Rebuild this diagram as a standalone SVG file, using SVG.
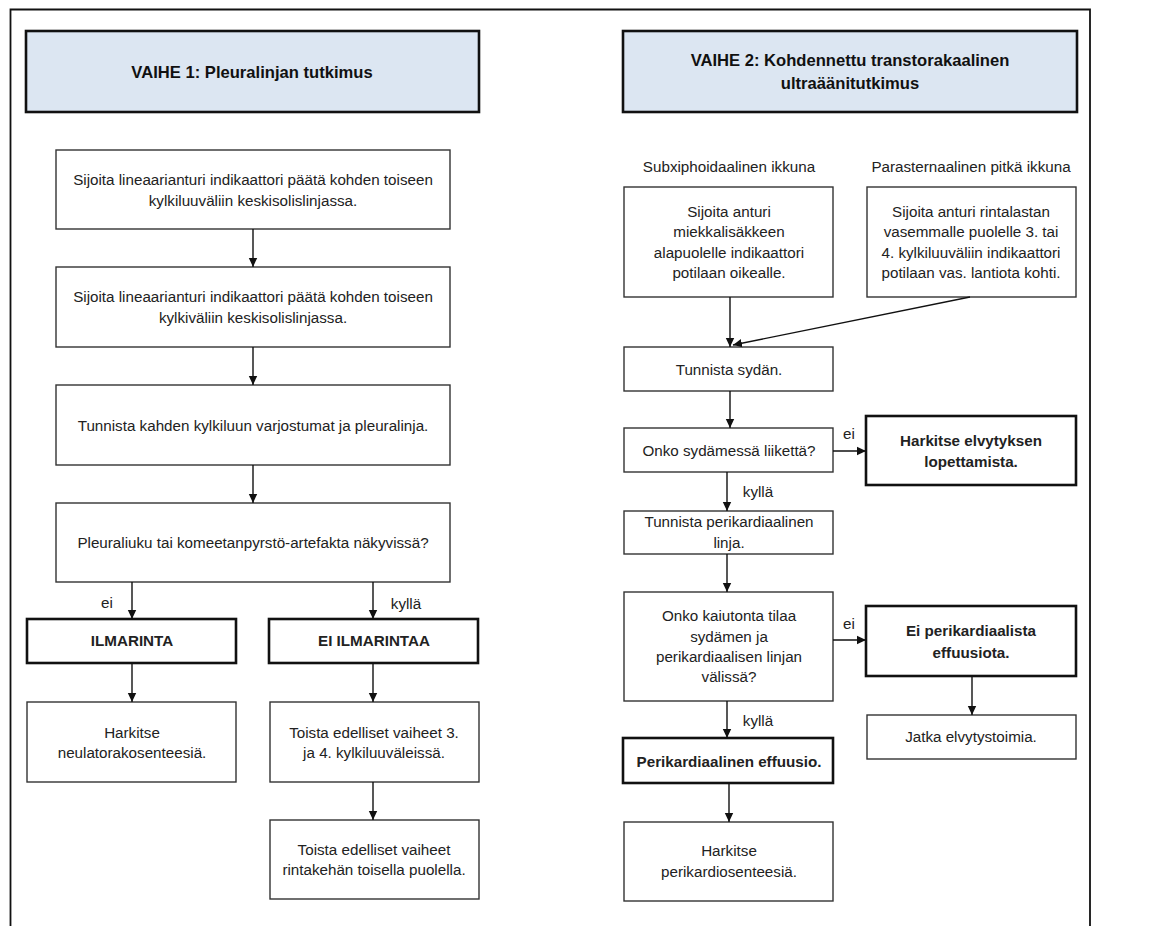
<svg xmlns="http://www.w3.org/2000/svg" width="1149" height="926" viewBox="0 0 1149 926">
<style>
text{font-family:"Liberation Sans",Arial,sans-serif;font-size:15.2px;fill:#222;text-anchor:middle}
.b{font-weight:bold}
.h{font-weight:bold;font-size:16.6px;fill:#111}
.box{fill:#fff;stroke:#333;stroke-width:1.4}
.tk{fill:#fff;stroke:#111;stroke-width:2.6}
.hd{fill:#dce6f2;stroke:#111;stroke-width:2.6}
.c{stroke:#111;stroke-width:1.4;fill:none;marker-end:url(#ah)}
</style>
<defs>
<marker id="ah" markerUnits="userSpaceOnUse" markerWidth="10" markerHeight="10" refX="9" refY="5" orient="auto">
<path d="M0,0.8 L9,5 L0,9.2 Z" fill="#111"/>
</marker>
</defs>
<rect width="1149" height="926" fill="#fff"/>
<path d="M10.5,926 V9.5 H1090 V926" fill="none" stroke="#111" stroke-width="1.8"/>

<g id="h1"><rect class="hd" x="26" y="31" width="453" height="81"/><text class="h" x="252" y="78">VAIHE 1: Pleuralinjan tutkimus</text></g>
<g id="h2"><rect class="hd" x="623" y="31" width="454" height="81"/><text class="h" x="850" y="66">VAIHE 2: Kohdennettu transtorakaalinen</text><text class="h" x="850" y="89">ultraäänitutkimus</text></g>

<g id="n1"><rect class="box" x="56" y="150" width="394" height="79"/><text x="253" y="185">Sijoita lineaarianturi indikaattori päätä kohden toiseen</text><text x="253" y="206">kylkiluuväliin keskisolislinjassa.</text></g>
<g id="n2"><rect class="box" x="56" y="267" width="394" height="80"/><text x="253" y="302">Sijoita lineaarianturi indikaattori päätä kohden toiseen</text><text x="253" y="323">kylkiväliin keskisolislinjassa.</text></g>
<g id="n3"><rect class="box" x="56" y="385" width="394" height="80"/><text x="253" y="431">Tunnista kahden kylkiluun varjostumat ja pleuralinja.</text></g>
<g id="n4"><rect class="box" x="56" y="503" width="394" height="79"/><text x="253" y="548">Pleuraliuku tai komeetanpyrstö-artefakta näkyvissä?</text></g>
<g id="n5"><rect class="tk" x="27" y="619" width="209" height="44"/><text class="b" x="132" y="646">ILMARINTA</text></g>
<g id="n6"><rect class="tk" x="269" y="619" width="209" height="44"/><text class="b" x="374" y="646">EI ILMARINTAA</text></g>
<g id="n7"><rect class="box" x="27" y="702" width="209" height="80"/><text x="132" y="738">Harkitse</text><text x="132" y="758">neulatorakosenteesiä.</text></g>
<g id="n8"><rect class="box" x="270" y="702" width="209" height="80"/><text x="374" y="738">Toista edelliset vaiheet 3.</text><text x="374" y="758">ja 4. kylkiluuväleissä.</text></g>
<g id="n9"><rect class="box" x="270" y="820" width="209" height="79"/><text x="374" y="855">Toista edelliset vaiheet</text><text x="374" y="875">rintakehän toisella puolella.</text></g>

<g id="l1"><text x="729" y="172">Subxiphoidaalinen ikkuna</text></g>
<g id="l2"><text x="971" y="172">Parasternaalinen pitkä ikkuna</text></g>
<g id="r1"><rect class="box" x="624" y="187" width="209" height="110"/><text x="729" y="217">Sijoita anturi</text><text x="729" y="237">miekkalisäkkeen</text><text x="729" y="258">alapuolelle indikaattori</text><text x="729" y="278">potilaan oikealle.</text></g>
<g id="r2"><rect class="box" x="867" y="187" width="209" height="110"/><text x="971" y="217">Sijoita anturi rintalastan</text><text x="971" y="237">vasemmalle puolelle 3. tai</text><text x="971" y="258">4. kylkiluuväliin indikaattori</text><text x="971" y="278">potilaan vas. lantiota kohti.</text></g>
<g id="r3"><rect class="box" x="624" y="347" width="209" height="44"/><text x="729" y="375">Tunnista sydän.</text></g>
<g id="r4"><rect class="box" x="624" y="428" width="209" height="44"/><text x="729" y="456">Onko sydämessä liikettä?</text></g>
<g id="r5"><rect class="tk" x="866" y="416" width="210" height="69"/><text class="b" x="971" y="446">Harkitse elvytyksen</text><text class="b" x="971" y="467">lopettamista.</text></g>
<g id="r6"><rect class="box" x="624" y="511" width="209" height="43"/><text x="729" y="527">Tunnista perikardiaalinen</text><text x="729" y="548">linja.</text></g>
<g id="r7"><rect class="box" x="624" y="592" width="209" height="109"/><text x="729" y="621">Onko kaiutonta tilaa</text><text x="729" y="642">sydämen ja</text><text x="729" y="662">perikardiaalisen linjan</text><text x="729" y="682">välissä?</text></g>
<g id="r8"><rect class="tk" x="866" y="606" width="210" height="70"/><text class="b" x="971" y="636">Ei perikardiaalista</text><text class="b" x="971" y="658">effuusiota.</text></g>
<g id="r9"><rect class="box" x="867" y="715" width="209" height="44"/><text x="971" y="742">Jatka elvytystoimia.</text></g>
<g id="r10"><rect class="tk" x="623" y="738" width="210" height="45"/><text class="b" x="729" y="767">Perikardiaalinen effuusio.</text></g>
<g id="r11"><rect class="box" x="624" y="822" width="209" height="79"/><text x="729" y="856">Harkitse</text><text x="729" y="877">perikardiosenteesiä.</text></g>

<g id="connectors">
<path class="c" d="M253,229 V267"/>
<path class="c" d="M253,347 V385"/>
<path class="c" d="M253,465 V503"/>
<path class="c" d="M132,582 V619"/>
<path class="c" d="M373,582 V619"/>
<path class="c" d="M132,663 V702"/>
<path class="c" d="M373,663 V702"/>
<path class="c" d="M373,782 V820"/>
<path class="c" d="M730,297 V347"/>
<path class="c" d="M970,297 L733,345"/>
<path class="c" d="M730,391 V428"/>
<path class="c" d="M833,451 H866"/>
<path class="c" d="M727,472 V511"/>
<path class="c" d="M727,554 V592"/>
<path class="c" d="M833,640 H866"/>
<path class="c" d="M972,676 V715"/>
<path class="c" d="M727,701 V738"/>
<path class="c" d="M729,783 V822"/>
<text x="107" y="608">ei</text>
<text x="406" y="609">kyllä</text>
<text x="849" y="439">ei</text>
<text x="758" y="497">kyllä</text>
<text x="849" y="629">ei</text>
<text x="758" y="726">kyllä</text>
</g>
</svg>
